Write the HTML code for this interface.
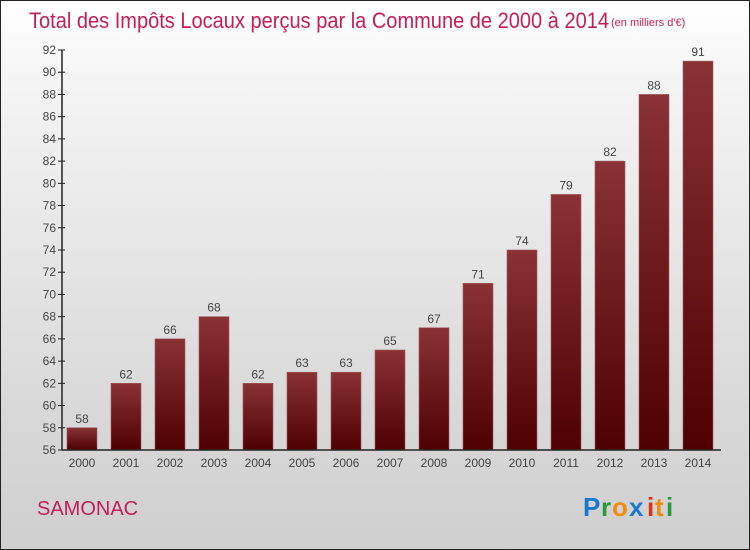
<!DOCTYPE html>
<html><head><meta charset="utf-8"><style>
body{margin:0;width:750px;height:550px;overflow:hidden}
#c{position:relative;width:748px;height:548px;border:1px solid #222;background:linear-gradient(#ffffff,#f4f4f4 15%,#d8d8d8 75%,#cfcfcf);font-family:"Liberation Sans",sans-serif}
</style></head><body>
<div id="c">
<svg width="748" height="548" style="position:absolute;left:0;top:0">
<defs><linearGradient id="g" x1="0" y1="0" x2="0" y2="1"><stop offset="0" stop-color="#8a3236"/><stop offset="1" stop-color="#4e0002"/></linearGradient></defs>
<text x="28" y="27" font-size="22" fill="#c41e5a" textLength="580" lengthAdjust="spacingAndGlyphs">Total des Impôts Locaux perçus par la Commune de 2000 à 2014</text>
<text x="610" y="25" font-size="11" fill="#c41e5a">(en milliers d'€)</text>
<g id="plot"></g>
<text x="36" y="514" font-size="20" fill="#c41e5a">SAMONAC</text>
<g font-size="26" font-weight="bold" font-family="'Liberation Sans',sans-serif">
<text x="582" y="515" fill="#1a78d0">P</text><text x="600" y="515" fill="#2a9a3a">r</text><text x="611" y="515" fill="#f08a10">o</text><text x="628" y="515" fill="#1a78d0">x</text><text x="646" y="515" fill="#e03010">i</text><text x="654" y="515" fill="#f08a10">t</text><text x="665" y="515" fill="#2a9a3a">i</text>
</g>
</svg>
</div>
<script>
const years=["2000","2001","2002","2003","2004","2005","2006","2007","2008","2009","2010","2011","2012","2013","2014"];
const values=[58,62,66,68,62,63,63,65,67,71,74,79,82,88,91];
const yTicks=[56,58,60,62,64,66,68,70,72,74,76,78,80,82,84,86,88,90,92];
const NS="http://www.w3.org/2000/svg";
const g=document.getElementById('plot');
const y=v=>449-(v-56)*(400/36);
const x=i=>81+i*44;
function el(t,a,txt){const e=document.createElementNS(NS,t);for(const k in a)e.setAttribute(k,a[k]);if(txt!=null)e.textContent=txt;g.appendChild(e);return e;}
values.forEach((v,i)=>{
 const r=el('rect',{x:x(i)-15,y:y(v),width:30,height:y(56)-y(v),fill:'url(#g)',stroke:'#a05a5e','stroke-width':0.6});
 
 
 const t=el('text',{x:x(i),y:y(v)-5,'font-size':12,'text-anchor':'middle',fill:'#444'},v);
 
 
 const l=el('text',{x:x(i),y:466,'font-size':12,'text-anchor':'middle',fill:'#444'},years[i]);
 
 
});
yTicks.forEach(v=>{
 el('line',{x1:57,x2:64,y1:y(v),y2:y(v),stroke:'#222'});
 const t=el('text',{x:55,y:y(v)+4,'font-size':12,'text-anchor':'end',fill:'#444'},v);
 
 
});
const ya=el('line',{x1:61,x2:61,y1:y(92),y2:449,stroke:'#222','stroke-width':1.5});


const xa=el('line',{x1:61,x2:720,y1:449,y2:449,stroke:'#222','stroke-width':1.5});


</script>
</body></html>
